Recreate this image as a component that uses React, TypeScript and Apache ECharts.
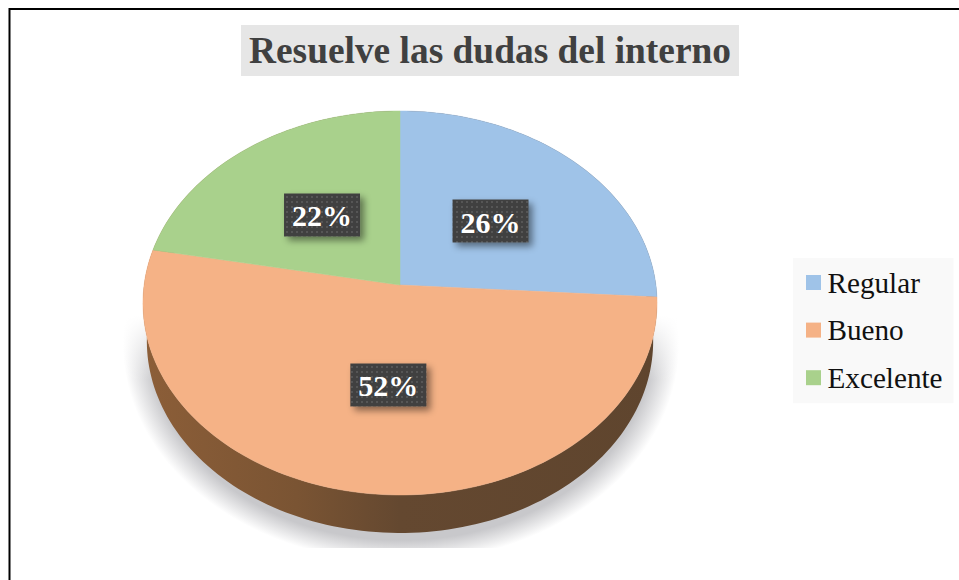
import React, { useEffect, useRef } from "react";
import * as echarts from "echarts";

const titleText = "Resuelve las dudas del interno";
const categories = ["Regular", "Bueno", "Excelente"];
const values = [26, 52, 22];
const topColors = ["#9FC3E8", "#F5B286", "#A9D18C"];

const FONT = '"Liberation Serif", "Times New Roman", serif';
const CX = 400, APEX_Y = 285, RX = 255.9, RY = 190.3, PERSPECTIVE = 0.0937;
const DEPTH = 38, BOTTOM_SCALE = 0.985, LABEL_R = 0.495, BOX_W = 76, BOX_H = 43;
const LABEL_NUDGE = [[1, -1.5], [5, 2], [0, 0]];

function project(deg: number, r = 1): [number, number] {
  const a = (deg * Math.PI) / 180;
  const u = Math.sin(a) * r, v = Math.cos(a) * r;
  const d = 1 + PERSPECTIVE * v;
  return [CX + (RX * u) / d, APEX_Y - (RY * v) / d];
}

function arc(start: number, end: number): [number, number][] {
  const n = Math.max(2, Math.ceil((end - start) / 1.5));
  const out: [number, number][] = [];
  for (let i = 0; i <= n; i++) out.push(project(start + ((end - start) * i) / n));
  return out;
}

function dotPattern() {
  const c = document.createElement("canvas");
  c.width = 5; c.height = 5;
  const g = c.getContext("2d")!;
  g.fillStyle = "#3F3F3F"; g.fillRect(0, 0, 5, 5);
  g.fillStyle = "#565656"; g.fillRect(1, 1, 2, 2);
  return c;
}

export default function App() {
  const ref = useRef<HTMLDivElement>(null);
  useEffect(() => {
    const chart = echarts.init(ref.current!, undefined, { renderer: "svg" });
    const total = values.reduce((a, b) => a + b, 0);
    const pattern = { image: dotPattern(), repeat: "repeat" };
    const wallFill = {
      type: "linear", x: 143, y: 0, x2: 657, y2: 0, global: true,
      colorStops: [
        { offset: 0, color: "#8C5E38" },
        { offset: 0.3, color: "#7A5433" },
        { offset: 0.5, color: "#644830" },
        { offset: 1, color: "#5F452E" },
      ],
    };
    let cumulative = 0;
    const series = categories.map((name, i) => {
      const start = (cumulative / total) * 360;
      cumulative += values[i];
      const end = (cumulative / total) * 360;
      return {
        type: "custom",
        name,
        coordinateSystem: "none",
        itemStyle: { color: topColors[i] },
        silent: true,
        data: [[values[i]]],
        renderItem: () => {
          const rim = arc(start, end);
          const bottom = rim
            .map(([x, y]) => [CX + (x - CX) * BOTTOM_SCALE, y + DEPTH])
            .reverse();
          const [px, py] = project((start + end) / 2, LABEL_R);
          const lx = px + LABEL_NUDGE[i][0], ly = py + LABEL_NUDGE[i][1];
          return {
            type: "group",
            children: [
              {
                type: "polygon", z2: 1,
                shape: { points: [...rim, ...bottom] },
                style: { fill: wallFill },
              },
              {
                type: "polygon", z2: 10,
                shape: { points: [[CX, APEX_Y], ...rim] },
                style: { fill: topColors[i], stroke: topColors[i], lineWidth: 0.5 },
              },
              {
                type: "rect", z2: 20,
                shape: { x: lx - BOX_W / 2, y: ly - BOX_H / 2, width: BOX_W, height: BOX_H },
                style: {
                  fill: pattern,
                  shadowBlur: 7, shadowOffsetX: 4, shadowOffsetY: 4,
                  shadowColor: "rgba(0,0,0,0.45)",
                },
              },
              {
                type: "text", z2: 21, x: lx, y: ly + 1,
                style: {
                  text: Math.round((values[i] / total) * 100) + "%",
                  fill: "#FFFFFF", font: `bold 30px ${FONT}`,
                  align: "center", verticalAlign: "middle",
                },
              },
            ],
          };
        },
      };
    });

    chart.setOption({
      animation: false,
      backgroundColor: "#FFFFFF",
      title: {
        text: titleText,
        left: 241, top: 25,
        padding: [7, 8, 7, 8],
        backgroundColor: "#E6E6E6",
        textStyle: { fontFamily: FONT, fontWeight: "bold", fontSize: 37.4, color: "#404040" },
      },
      legend: {
        orient: "vertical",
        left: 793, top: 258,
        padding: [10, 11, 11, 13],
        backgroundColor: "#F9F9F9",
        itemWidth: 15, itemHeight: 15, itemGap: 18.6,
        icon: "rect",
        selectedMode: false,
        data: categories,
        formatter: (n: string) => n,
        textStyle: { fontFamily: FONT, fontSize: 29.2, color: "#111111", padding: [0, 0, 0, 1.5] },
      },
      graphic: [
        {
          type: "polyline", silent: true, z: 0,
          shape: { points: [[9.5, 580], [9.5, 9], [959, 9]] },
          style: { stroke: "#000000", lineWidth: 2, fill: "none" },
        },
        {
          type: "ellipse", silent: true, z: 0,
          shape: { cx: 401, cy: 345, rx: 278, ry: 217 },
          style: {
            fill: {
              type: "radial", x: 0.5, y: 0.5, r: 0.5,
              colorStops: [
                { offset: 0, color: "#C8C8CB" },
                { offset: 0.9, color: "#C8C8CB" },
                { offset: 1, color: "#FFFFFF" },
              ],
            },
          },
        },
        {
          type: "rect", silent: true, z: 1,
          shape: { x: 90, y: 60, width: 620, height: 320 },
          style: {
            fill: {
              type: "linear", x: 0, y: 0, x2: 0, y2: 1,
              colorStops: [
                { offset: 0, color: "#FFFFFF" },
                { offset: 0.8, color: "#FFFFFF" },
                { offset: 1, color: "rgba(255,255,255,0)" },
              ],
            },
          },
        },
        {
          type: "rect", silent: true, z: 1,
          shape: { x: 90, y: 548, width: 620, height: 32 },
          style: { fill: "#FFFFFF" },
        },
      ],
      series,
    });
    return () => chart.dispose();
  }, []);
  return <div ref={ref} style={{ position: "fixed", left: 0, top: 0, width: 959, height: 580 }} />;
}
